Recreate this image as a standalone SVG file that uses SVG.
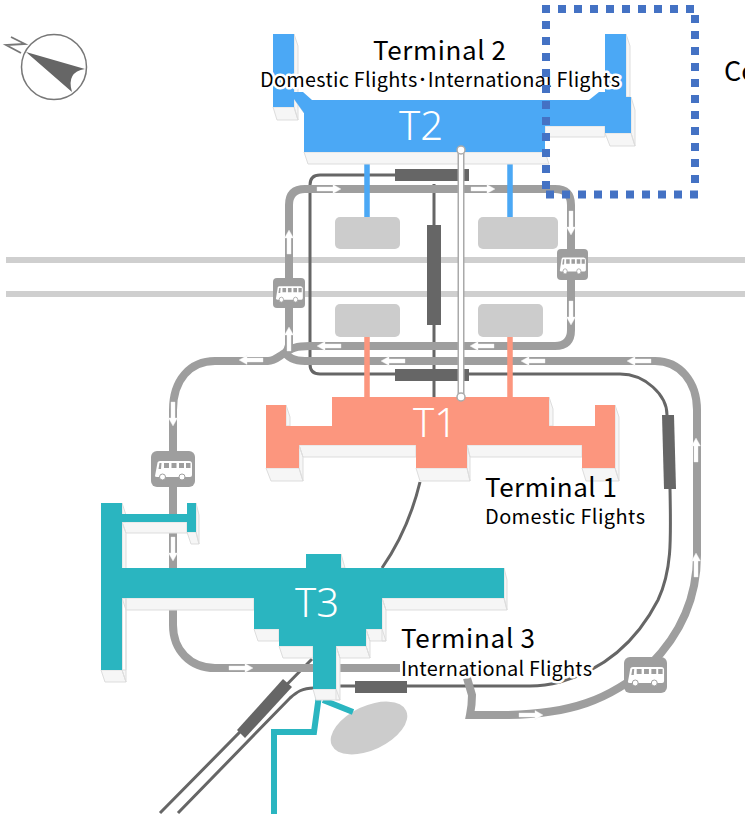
<svg xmlns="http://www.w3.org/2000/svg" xmlns:xlink="http://www.w3.org/1999/xlink" width="745" height="817" viewBox="0 0 745 817">
<style>
.rail{fill:none;stroke:#cfcfcf;stroke-width:6}
.bus{fill:none;stroke:#9e9e9e;stroke-width:8}
.mono{fill:none;stroke:#666;stroke-width:3}
.bar{fill:#666}
.lot{fill:#ccc}
.side{fill:#f6f6f6;stroke:#ddd;stroke-width:1}
.lineb{fill:none;stroke:#4ba8f5;stroke-width:5.5}
.lines{fill:none;stroke:#fc967e;stroke-width:5.5}
.linet{fill:none;stroke:#2ab5c0;stroke-width:6}
.blue{fill:#4ba8f5}.sal{fill:#fc967e}.teal{fill:#2ab5c0}
.code{font-family:"Noto Sans",sans-serif;font-size:40px;fill:#fff;font-weight:300}
.h1{font-family:"Noto Sans CJK JP","Noto Sans",sans-serif;font-size:26px;fill:#000}
.h2{font-family:"Noto Sans CJK JP","Noto Sans",sans-serif;font-size:20px;fill:#000;stroke:#fff;stroke-width:5;paint-order:stroke;stroke-linejoin:round}
.sign{fill:#9e9e9e}
.dots{fill:none;stroke:#4472c4;stroke-width:8;stroke-dasharray:8 8}
</style>
<defs>
<path id="arr" fill="#fff" stroke="#eee" stroke-width=".4" d="M-12,-2H4V-4.500L12,0L4,4.500V2H-12Z"/>
<symbol id="busicon" viewBox="0 0 44 36" preserveAspectRatio="none">
<path fill="#fff" d="M4,25L6.500,11.500Q7,10 9,10H38Q41,10 41,13V24Q41,26 39,26H6Q4,26 4,25Z"/>
<path fill="#9e9e9e" d="M8.500,12H10.500L10,18H7.500ZM13,12H18V17H13ZM20.500,12H25.500V17H20.500ZM28,12H33V17H28ZM35,12H39.500V17H35Z"/>
<circle cx="11.500" cy="26" r="3" fill="#fff" stroke="#9e9e9e"/>
<circle cx="31" cy="26" r="3" fill="#fff" stroke="#9e9e9e"/>
</symbol>
</defs>
<rect width="745" height="817" fill="#fff"/>

<g id="rails">
<path class="rail" d="M6,260H745M6,294H745"/>
</g>

<g id="connectors">
<path class="mono" d="M395,175H320Q310,175 310,185V364Q310,374 320,374H620C645,374 667,395 667,415M670,489C671,540 672,570 658,600C640,635 610,668 560,682Q545,686 530,686H340"/>
<path class="mono" d="M434,184V397M420,482C412,515 398,545 382,568"/>
<path class="mono" d="M312,659L160,813M314,688C302,688 297,692 290,698L178,813"/>
<path class="bus" d="M285,353C287,351 288,350 289,345V205Q289,189 305,189H555Q571,189 571,205V330Q571,346 555,346H310C296,346 292,348 283,354C277,358 274,361 268,361H215C190,361 173,380 173,410V625C173,650 190,668 215,668H400"/>
<path class="bus" d="M284,351C288,358 294,361 305,361H655C680,361 697,382 697,410V555C697,600 680,635 650,665C610,700 570,715 500,715H470Q472,705 472,695L467,678"/>
</g>

<g id="monorail-bars">
<rect class="bar" x="395" y="169" width="74" height="12"/>
<rect class="bar" x="427" y="225" width="14" height="100"/>
<rect class="bar" x="395" y="369" width="74" height="12"/>
<polygon class="bar" points="662,415 674,415 676,489 664,489"/>
<rect class="bar" x="355" y="681" width="52" height="12"/>
<polygon class="bar" points="283,679 292,687 245,738 237,730"/>
</g>

<g id="parking">
<rect class="lot" x="335" y="217" width="65" height="32" rx="5"/>
<rect class="lot" x="478" y="217" width="80" height="32" rx="5"/>
<rect class="lot" x="335" y="304" width="65" height="33" rx="5"/>
<rect class="lot" x="478" y="304" width="65" height="33" rx="5"/>
<ellipse class="lot" cx="369" cy="728" rx="41" ry="22" transform="rotate(-25 369 728)"/>
</g>

<g id="links">
<path class="lineb" d="M367,152V217M510,152V217"/>
<path class="lines" d="M367,337V397M510,337V397"/>
<path class="linet" d="M320,688L314,732H274V814M323,700L353,712"/>
</g>

<g id="arrows">
<use xlink:href="#arr" transform="translate(329,189)"/>
<use xlink:href="#arr" transform="translate(483,189)"/>
<use xlink:href="#arr" transform="translate(571,223) rotate(90)"/>
<use xlink:href="#arr" transform="translate(571,313) rotate(90)"/>
<use xlink:href="#arr" transform="translate(289,242) rotate(-90)"/>
<use xlink:href="#arr" transform="translate(289,339) rotate(-90)"/>
<use xlink:href="#arr" transform="translate(329,346) rotate(180)"/>
<use xlink:href="#arr" transform="translate(482,346) rotate(180)"/>
<use xlink:href="#arr" transform="translate(393,361) rotate(180)"/>
<use xlink:href="#arr" transform="translate(533,361) rotate(180)"/>
<use xlink:href="#arr" transform="translate(639,361) rotate(180)"/>
<use xlink:href="#arr" transform="translate(251,360) rotate(180)"/>
<use xlink:href="#arr" transform="translate(173,414) rotate(90)"/>
<use xlink:href="#arr" transform="translate(173,549) rotate(90)"/>
<use xlink:href="#arr" transform="translate(241,668)"/>
<use xlink:href="#arr" transform="translate(531,715)"/>
<use xlink:href="#arr" transform="translate(696,450) rotate(-90)"/>
<use xlink:href="#arr" transform="translate(696,565) rotate(-90)"/>
</g>

<g id="bus-stop-1"><rect class="sign" x="273" y="278" width="32" height="30" rx="4"/><use xlink:href="#busicon" x="273" y="278" width="32" height="30"/></g>
<g id="bus-stop-2"><rect class="sign" x="557" y="249" width="31" height="31" rx="4"/><use xlink:href="#busicon" x="557" y="249" width="31" height="31"/></g>
<g id="bus-stop-3"><rect class="sign" x="151" y="451" width="44" height="36" rx="6"/><use xlink:href="#busicon" x="151" y="451" width="44" height="36"/></g>
<g id="bus-stop-4"><rect class="sign" x="624" y="657" width="43" height="36" rx="6"/><use xlink:href="#busicon" x="624" y="657" width="43" height="36"/></g>

<g id="terminal-2">
<path class="side" d="M273,107H294L298,120H277ZM294,34L298,46V120L294,107ZM294,99L304,113V107L299,96ZM304,152H545L549,164H308ZM545,126H605V137H549L545,140ZM605,133H631L635,146H610ZM631,97L635,110V146L631,133ZM626,34L630,46V97H626Z"/>
<path class="blue" d="M273,34H294V92L303,92L312,100H589L599,92H605V34H626V97H631V133H605V126H545V152H304V113L294,99V107H273Z"/>
<text class="code" x="399" y="140">T2</text>
</g>

<g id="terminal-1">
<path class="side" d="M286,405L290,417V426H286ZM266,468H299L303,481H271ZM299,445L303,457V481L299,468ZM299,445H416V457H303ZM416,468H467L470,481H420ZM467,445L470,457V481L467,468ZM467,445H582V457H470ZM582,468H615L619,481H586ZM615,405L619,417V481L615,468ZM549,397L553,409V426H549Z"/>
<path class="sal" d="M266,405H286V426H332V397H549V426H595V405H615V468H582V445H467V468H416V445H299V468H266Z"/>
<text class="code" x="413" y="437">T1</text>
</g>

<g id="terminal-3">
<path class="side" d="M122,503L126,515V522H122ZM122,522H187V533H126ZM122,522L126,533V670H122ZM101,670H122L126,682H105ZM122,670L126,682V598H122ZM187,532H196L199,544H191ZM196,503L199,515V544L196,532ZM341,554L345,568H341ZM122,598H254V610H126ZM382,598H504L507,610H386ZM504,568L507,580V610L504,598ZM382,598L386,610V641H382ZM254,629H279V641H258ZM366,629H382L386,641H370ZM279,646H313V658H283ZM336,646H366L370,658H340ZM366,629L370,641V658L366,646ZM336,646L340,658V700H336ZM313,689H336L340,700H316Z"/>
<path class="teal" d="M101,503H122V514H187V503H196V532H187V522H122V568H306V554H341V568H504V598H382V629H366V646H336V689H313V646H279V629H254V598H122V670H101Z"/>
<text class="code" x="295" y="617">T3</text>
</g>

<g id="walkway">
<path d="M461,151V397" fill="none" stroke="#aaa" stroke-width="7"/>
<path d="M461,151V397" fill="none" stroke="#fff" stroke-width="4"/>
<circle cx="461" cy="150" r="4" fill="#fff" stroke="#aaa" stroke-width="1.500"/>
<circle cx="461" cy="397" r="4" fill="#fff" stroke="#aaa" stroke-width="1.500"/>
</g>

<g id="compass">
<circle cx="54" cy="67" r="32.500" fill="#fff" stroke="#777" stroke-width="1.500"/>
<path fill="#666" d="M26,52L85,69Q66,72 72,92Z"/>
<path fill="none" stroke="#777" stroke-width="1.800" d="M11,37L25,44L6,45L21,53"/>
</g>

<g id="labels">
<text class="h1" x="373" y="60" textLength="133">Terminal 2</text>
<text class="h2" x="260" y="87" textLength="360">Domestic Flights･International Flights</text>
<text class="h1" x="485" y="497" textLength="132">Terminal 1</text>
<text class="h2" x="485" y="524" textLength="160">Domestic Flights</text>
<text class="h1" x="401" y="648" textLength="134">Terminal 3</text>
<text class="h2" x="401" y="676" textLength="191">International Flights</text>
<text class="h1" x="724" y="81" style="font-size:27px">Co</text>
</g>

<g id="highlight">
<path class="dots" d="M542,9H695"/>
<path class="dots" d="M695,15V184"/>
<path class="dots" d="M546,194.500H699"/>
<path class="dots" d="M546,21V190"/>
</g>
</svg>
